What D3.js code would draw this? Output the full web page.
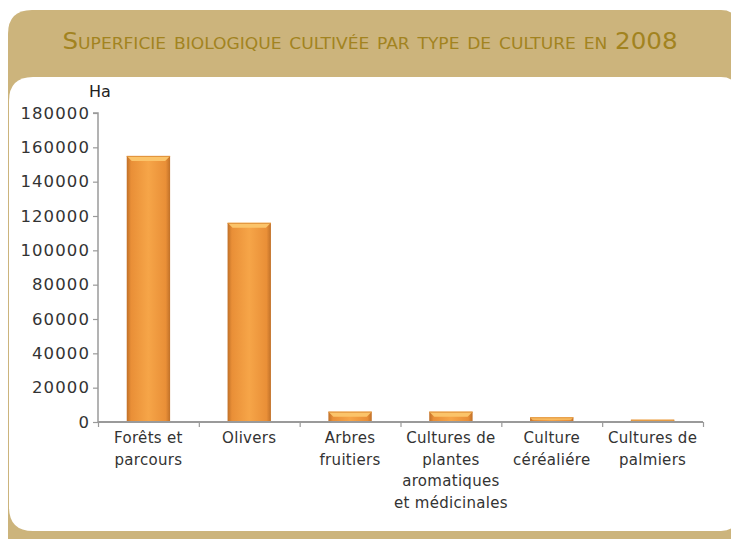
<!DOCTYPE html>
<html><head><meta charset="utf-8">
<script src="https://cdn.jsdelivr.net/npm/d3@7"></script>
<style>
html,body{margin:0;padding:0;background:#fff;}
svg{display:block;}
</style></head>
<body>
<script>
// ---- data ----
const categories = [
  ["Forêts et","parcours"],
  ["Olivers"],
  ["Arbres","fruitiers"],
  ["Cultures de","plantes","aromatiques","et médicinales"],
  ["Culture","céréaliére"],
  ["Cultures de","palmiers"]
];
const values = [155000, 116000, 6000, 6000, 2700, 1300];
const yTicks = [0, 20000, 40000, 60000, 80000, 100000, 120000, 140000, 160000, 180000];
const titleText = "Superficie biologique cultivée par type de culture en 2008";
const unitLabel = "Ha";

const W = 731, H = 539;
const svg = d3.select("body").append("svg").attr("width", W).attr("height", H);

function rrect(x, y, w, h, tl, tr, br, bl) {
  return `M${x+tl},${y} H${x+w-tr} Q${x+w},${y} ${x+w},${y+tr} V${y+h-br} Q${x+w},${y+h} ${x+w-br},${y+h} H${x+bl} Q${x},${y+h} ${x},${y+h-bl} V${y+tl} Q${x},${y} ${x+tl},${y} Z`;
}
const tan = "#CCB47C";
svg.append("path").attr("d", rrect(8, 10, 729, 545, 24, 16, 0, 0)).attr("fill", tan);
svg.append("path").attr("d", rrect(9, 77, 728, 454, 24, 16, 16, 24)).attr("fill", "#fff");

// title
svg.append("text")
  .attr("x", 370).attr("y", 49)
  .attr("text-anchor", "middle")
  .attr("textLength", 615).attr("lengthAdjust", "spacingAndGlyphs")
  .style("font-family", "'DejaVu Sans Condensed','DejaVu Sans',sans-serif")
  .style("font-variant", "small-caps")
  .style("font-size", "23px")
  .attr("fill", "#A2831F")
  .text(titleText);

// scales
const x0 = 98, x1 = 703, yBottom = 422, yTop = 113;
const x = d3.scaleBand().domain(d3.range(categories.length)).range([x0, x1])
  .paddingInner(0.57).paddingOuter(0.285);
const xEdge = d3.scaleLinear().domain([0, categories.length]).range([x0, x1]);
const y = d3.scaleLinear().domain([0, 180000]).range([yBottom, yTop]);

const font = "'DejaVu Sans',sans-serif";
const axisCol = "#9a9a9a";

const defs = svg.append("defs");
const g1 = defs.append("linearGradient").attr("id", "barG").attr("x1", "0").attr("x2", "1").attr("y1", "0").attr("y2", "0");
[[0,"#C07028"],[0.1,"#E98F37"],[0.5,"#F6A548"],[0.9,"#E98F37"],[1,"#C07028"]]
  .forEach(([o,c]) => g1.append("stop").attr("offset", o).attr("stop-color", c));

// bars
const bars = svg.append("g");
values.forEach((v, i) => {
  const bx = x(i), bw = x.bandwidth(), by = y(v), bh = yBottom - y(v);
  bars.append("rect").attr("x", bx).attr("y", by).attr("width", bw).attr("height", bh)
    .attr("fill", "url(#barG)");
  const bev = Math.min(5, bh / 2);
  bars.append("path")
    .attr("d", `M${bx},${by} H${bx+bw} L${bx+bw-bev},${by+bev} H${bx+bev} Z`)
    .attr("fill", "#FBC46A");
  bars.append("line").attr("x1", bx).attr("x2", bx + bw).attr("y1", by + 0.5).attr("y2", by + 0.5)
    .attr("stroke", "#E0913A").attr("stroke-width", 1);
});

// y axis
const yAxis = svg.append("g").attr("transform", `translate(${x0},0)`)
  .call(d3.axisLeft(y).tickValues(yTicks).tickSize(5).tickPadding(3).tickFormat(d3.format("d")));
yAxis.select(".domain").attr("stroke", axisCol).attr("stroke-width", 1.5).attr("d", `M-5,${yTop}H0V${yBottom}`);
yAxis.selectAll(".tick line").attr("stroke", axisCol).attr("stroke-width", 1.2);
yAxis.selectAll(".tick text").attr("fill", "#333").style("font-family", font)
  .style("font-size", "16.5px").style("letter-spacing", "1.1px");

// x axis (boundary ticks)
const xAxis = svg.append("g").attr("transform", `translate(0,${yBottom})`)
  .call(d3.axisBottom(xEdge).tickValues(d3.range(categories.length + 1)).tickSize(5).tickFormat(""));
xAxis.select(".domain").attr("stroke", axisCol).attr("stroke-width", 2).attr("d", `M${x0},0H${x1}`);
xAxis.selectAll(".tick line").attr("stroke", axisCol).attr("stroke-width", 1.2);

// category labels
const lab = svg.append("g");
categories.forEach((lines, i) => {
  const cx = xEdge(i + 0.5);
  const t = lab.append("text").attr("x", cx).attr("y", 443).attr("text-anchor", "middle")
    .attr("fill", "#333").style("font-family", font).style("font-size", "15px")
    .style("letter-spacing", "0.3px");
  lines.forEach((l, j) => t.append("tspan").attr("x", cx).attr("y", 443 + j * 21.7).text(l));
});

// unit label
svg.append("text").attr("x", 89).attr("y", 97).attr("fill", "#222")
  .style("font-family", font).style("font-size", "16px").text(unitLabel);
</script>
</body></html>
